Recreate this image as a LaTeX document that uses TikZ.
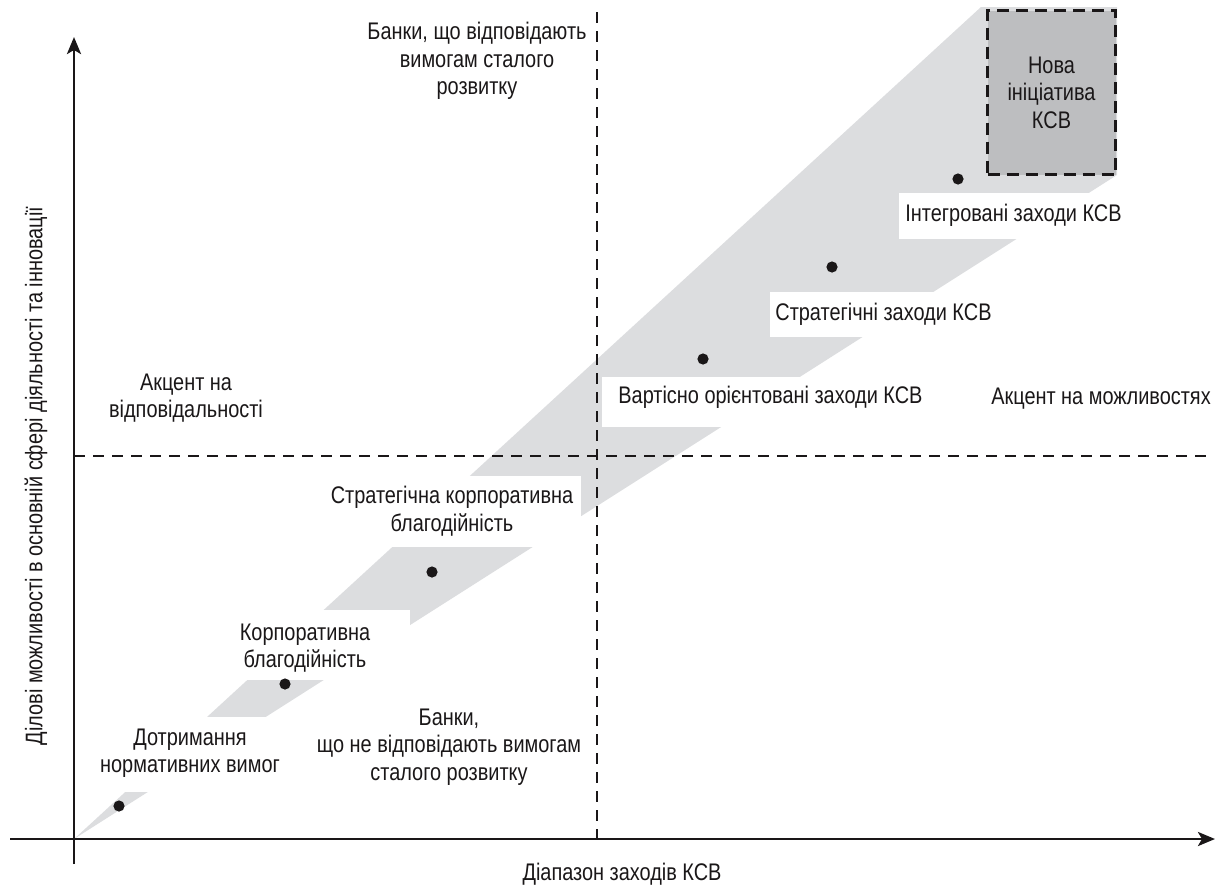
\documentclass[tikz,border=0pt]{standalone}
\usepackage{fontspec}
\setmainfont{Liberation Sans}[FakeStretch=0.83]
\usetikzlibrary{arrows.meta}
\definecolor{kband}{HTML}{DCDDDF}
\definecolor{kbox}{HTML}{BDBEC0}
\definecolor{kink}{HTML}{1A1718}
\newcommand\kfont{\fontsize{12pt}{13.75pt}\selectfont}
\tikzset{
  >={Stealth[length=8.5pt,width=7pt,inset=2pt]},
  kaxis/.style={kink, line width=1.4pt, ->},
  kquad/.style={kink, line width=1.3pt, dash pattern=on 5.5pt off 4pt},
  kstrip/.style={fill=kband},
  kcut/.style={fill=white},
  kdot/.style={circle, fill=kink, inner sep=0pt, minimum size=5.6pt},
  klbl/.style={kink, font=\kfont, align=center, inner sep=0pt},
  kstep/.style={kink, font=\kfont, anchor=west, inner sep=0pt},
  kinit/.style={draw=kink, fill=kbox, line width=1.8pt,
                dash pattern=on 6pt off 3.5pt, font=\kfont, text=kink,
                align=center, minimum width=64pt, minimum height=82pt},
}

\begin{document}
\begin{tikzpicture}[x=0.5pt,y=-0.5pt]
  \useasboundingbox (0,0) rectangle (1220,884);

  % pasmo zakhodiv KSV
  \coordinate (O) at (74,839);
  \fill[kstrip] (O) -- (981,7) -- (1117,7) -- (1117,175) -- cycle;

  % vyrizy pid pidpysy
  \fill[kcut] (96,717) rectangle (286,792);
  \fill[kcut] (200,610) rectangle (410,680);
  \fill[kcut] (323,476) rectangle (581,547);
  \fill[kcut] (602,377) rectangle (935,427);
  \fill[kcut] (770,292) rectangle (1000,337);
  \fill[kcut] (899,193) rectangle (1125,239);

  % kvadranty
  \coordinate (vtop) at (597,12);
  \coordinate (vbot) at (597,839);
  \coordinate (hl) at (74,456);
  \coordinate (hr) at (1212,456);
  \draw[kquad] (vtop) -- (vbot);
  \draw[kquad] (hl) -- (hr);

  % osi
  \coordinate (xs) at (10,839);
  \coordinate (xe) at (1215,839);
  \coordinate (ys) at (74,864);
  \coordinate (ye) at (74,37);
  \draw[kaxis] (xs) -- (xe);
  \draw[kaxis] (ys) -- (ye);

  % tochky
  \foreach \n/\px/\py in {d1/119/806, d2/285/684, d3/432/572,
                          d4/703/359, d5/832/267, d6/958/179}
    \node[kdot] (\n) at (\px,\py) {};

  % pidpysy
  \node[klbl] (banky) at (477,61) {Банки, що відповідають\\вимогам сталого\\розвитку};
  \node[klbl] (vidp) at (186,398) {Акцент на\\відповідальності};
  \node[klbl] (mozh) at (1101,399) {Акцент на можливостях};
  \node[klbl] (nebanky) at (449,747) {Банки,\\що не відповідають вимогам\\сталого розвитку};
  \node[klbl] (norm) at (190,753) {Дотримання\\нормативних вимог};
  \node[klbl] (korp) at (305,648) {Корпоративна\\благодійність};
  \node[klbl] (strkorp) at (452,511) {Стратегічна корпоративна\\благодійність};
  \node[kstep] (vart) at (618,397) {Вартісно орієнтовані заходи КСВ};
  \node[kstep] (strz) at (775,314) {Стратегічні заходи КСВ};
  \node[kstep] (integr) at (905,215) {Інтегровані заходи КСВ};
  \node[kinit] (nova) at (1051.5,92.5) {Нова\\ініціатива\\КСВ};

  \node[klbl] (xlbl) at (622,874) {Діапазон заходів КСВ};
  \node[klbl, rotate=90] (ylbl) at (36,476)
    {Ділові можливості в основній сфері діяльності та інновації};
\end{tikzpicture}
\end{document}
